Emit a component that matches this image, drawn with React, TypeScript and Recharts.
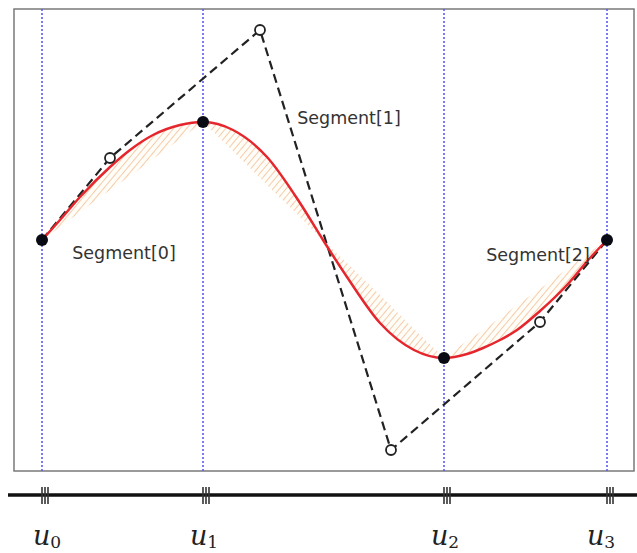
import {
  ComposedChart,
  Line,
  Area,
  Scatter,
  XAxis,
  YAxis,
  ReferenceLine,
  ReferenceArea,
  ReferenceDot,
} from "recharts";

// plot units: x 0..620, y 0..462 (y up)
const knotX = [28, 189, 430, 593];
const knotY = [231, 349, 113, 231];
const knotNames = ["0", "1", "2", "3"];

const ctrlX = [28, 96, 246, 377, 526, 593];
const ctrlY = [231, 313, 441, 21, 149, 231];

const seg0X = [28, 46, 66, 96, 116, 139, 166, 189];
const seg0Curve = [231, 251, 274, 304, 321, 336, 346, 349];
const seg0Chord = [231, 244, 259, 281, 295, 312, 332, 349];

const seg1X = [189, 219, 253, 286, 309, 333, 366, 400, 430];
const seg1Curve = [349, 341, 314, 268, 231, 194, 148, 121, 113];
const seg1Chord = [349, 320, 286, 254, 231, 208, 176, 142, 113];

const seg2X = [430, 453, 469, 486, 503, 526, 553, 576, 593];
const seg2Curve = [113, 117, 123, 131, 141, 160, 186, 213, 231];
const seg2Chord = [113, 130, 141, 153, 166, 182, 202, 219, 231];

const segLabels = ["Segment[0]", "Segment[1]", "Segment[2]"];
const segLabelX = [110, 335, 524];
const segLabelY = [218, 353, 216];

const segs = [
  { xs: seg0X, curve: seg0Curve, chord: seg0Chord },
  { xs: seg1X, curve: seg1Curve, chord: seg1Chord },
  { xs: seg2X, curve: seg2Curve, chord: seg2Chord },
];

const hatchData = segs.map((s) =>
  s.xs.map((x, i) => ({ x, band: [s.chord[i], s.curve[i]] }))
);

const curveData = segs.flatMap((s, k) =>
  s.xs
    .map((x, i) => ({ x, y: s.curve[i] }))
    .filter((_, i) => k === 0 || i > 0)
);

const polygonData = ctrlX.map((x, i) => ({ x, y: ctrlY[i] }));
const openData = polygonData.slice(1, -1);
const knotData = knotX.map((x, i) => ({ x, y: knotY[i] }));

const labelNudge = [5, 1, 1, -6];

const KnotTick = (props: any) => {
  const { x, y, payload } = props;
  const i = knotX.indexOf(payload.value);
  const ruleY = y + 24;
  return (
    <g>
      {i === 0 && (
        <line x1={8} x2={637} y1={ruleY} y2={ruleY} stroke="#111" strokeWidth={3.5} />
      )}
      {[0, 3, 6].map((d) => (
        <line
          key={d}
          x1={x + d}
          x2={x + d}
          y1={ruleY - 8}
          y2={ruleY + 9}
          stroke="#333"
          strokeWidth={1.6}
        />
      ))}
      <text
        x={x + labelNudge[i]}
        y={y + 74}
        textAnchor="middle"
        fill="#222"
        style={{ fontFamily: "DejaVu Serif", fontSize: 27 }}
      >
        <tspan fontStyle="italic">u</tspan>
        <tspan fontSize={17} dy={3}>
          {knotNames[i]}
        </tspan>
      </text>
    </g>
  );
};

const App = () => {
  return (
    <div style={{ position: "absolute", left: 0, top: 0 }}>
      <ComposedChart
        width={637}
        height={553}
        margin={{ top: 9, right: 3, left: 14, bottom: 52 }}
      >
        <defs>
          <pattern
            id="hatch"
            patternUnits="userSpaceOnUse"
            width={5}
            height={5}
            patternTransform="rotate(40)"
          >
            <rect width={5} height={5} fill="#fffdf8" />
            <line x1={0} y1={0} x2={0} y2={5} stroke="#ec9a5e" strokeWidth={1} />
          </pattern>
        </defs>
        <XAxis
          type="number"
          dataKey="x"
          domain={[0, 620]}
          ticks={knotX}
          interval={0}
          axisLine={false}
          tickLine={false}
          tickSize={0}
          tickMargin={0}
          height={30}
          allowDataOverflow
          tick={<KnotTick />}
        />
        <YAxis type="number" domain={[0, 462]} hide allowDataOverflow />
        <ReferenceArea
          x1={0}
          x2={620}
          y1={0}
          y2={462}
          fill="none"
          stroke="#7a7a7a"
          strokeWidth={1.5}
        />
        {knotX.map((k) => (
          <ReferenceLine
            key={k}
            x={k}
            stroke="#5b5bf0"
            strokeWidth={1.6}
            strokeDasharray="2 2"
          />
        ))}
        {hatchData.map((d, i) => (
          <Area
            key={i}
            data={d}
            dataKey="band"
            type="monotone"
            stroke="none"
            fill="url(#hatch)"
            fillOpacity={1}
            isAnimationActive={false}
          />
        ))}
        <Line
          data={polygonData}
          dataKey="y"
          type="linear"
          stroke="#222"
          strokeWidth={2.2}
          strokeDasharray="9 5"
          dot={false}
          isAnimationActive={false}
        />
        <Line
          data={curveData}
          dataKey="y"
          type="monotone"
          stroke="#e5262d"
          strokeWidth={2.5}
          dot={false}
          isAnimationActive={false}
        />
        <Scatter
          data={openData}
          dataKey="y"
          isAnimationActive={false}
          shape={(p: any) => (
            <circle cx={p.cx} cy={p.cy} r={5} fill="#fff" stroke="#222" strokeWidth={1.8} />
          )}
        />
        <Scatter
          data={knotData}
          dataKey="y"
          isAnimationActive={false}
          shape={(p: any) => <circle cx={p.cx} cy={p.cy} r={6} fill="#0a0a14" />}
        />
        {segLabels.map((s, i) => (
          <ReferenceDot
            key={s}
            x={segLabelX[i]}
            y={segLabelY[i]}
            r={0}
            fill="none"
            stroke="none"
            label={{
              value: s,
              position: "center",
              fill: "#333",
              fontSize: 17.5,
              fontFamily: "DejaVu Sans",
            }}
          />
        ))}
      </ComposedChart>
    </div>
  );
};

export default App;
